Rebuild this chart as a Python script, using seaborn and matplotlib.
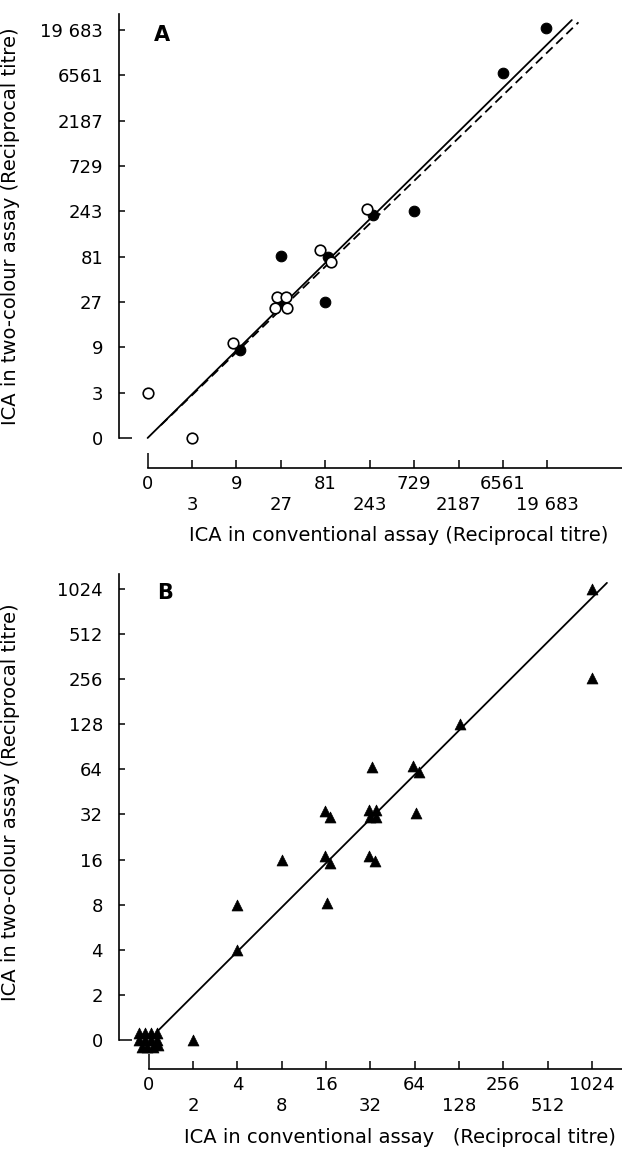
import numpy as np
import pandas as pd
import matplotlib.pyplot as plt
import seaborn as sns

# Panel A - steps on the threefold dilution scale (0 -> 0, 1 -> 3, 2 -> 9, ...)
a_tick_labels = ['0', '3', '9', '27', '81', '243', '729', '2187', '6561', '19 683']
a_open_conv = [0.0, 1.0, 1.93, 2.91, 3.12, 2.87, 3.13, 3.89, 4.13, 4.93]
a_open_two = [1.0, 0.0, 2.09, 3.12, 3.12, 2.86, 2.86, 4.15, 3.89, 5.06]
a_fill_conv = [2.08, 3.02, 3.0, 4.0, 4.05, 5.07, 6.0, 7.99, 8.98]
a_fill_two = [1.94, 2.98, 4.01, 3.0, 4.0, 4.92, 5.0, 8.04, 9.05]
# fitted lines: slope, intercept, first x, last x
a_fit_solid = (0.965, 0.0, 0.0, 9.55)
a_fit_dashed = (0.945, 0.0, 0.3, 9.7)

# Panel B - steps on the twofold dilution scale (0 -> 0, 1 -> 2, 2 -> 4, ...)
b_tick_labels = ['0', '2', '4', '8', '16', '32', '64', '128', '256', '512', '1024']
b_conv = [-0.22, -0.09, 0.05, 0.18, -0.22, -0.09, 0.05, 0.18, -0.16, -0.03, 0.1, 0.2,
          1.0, 2.0, 2.0, 3.0, 3.97, 4.1, 4.02, 3.97, 4.1, 4.97, 5.12, 5.0, 5.12,
          5.03, 4.97, 5.1, 5.97, 6.1, 6.03, 7.02, 10.0, 10.0]
b_two = [0.15, 0.15, 0.15, 0.15, 0.0, 0.0, 0.0, 0.0, -0.15, -0.15, -0.15, -0.12,
         0.0, 3.0, 2.0, 4.0, 4.08, 3.92, 3.03, 5.08, 4.94, 5.1, 5.1, 4.94, 4.94,
         6.05, 4.08, 3.97, 6.08, 5.94, 5.03, 7.0, 10.0, 8.03]
b_fit = (0.98, 0.0, 0.18, 10.34)

sns.set_style('ticks')
plt.rcParams['font.family'] = ['DejaVu Sans']
plt.rcParams.update({'text.color': 'black', 'axes.labelcolor': 'black',
                     'xtick.color': 'black', 'ytick.color': 'black',
                     'axes.edgecolor': 'black'})
FS = 13
LFS = 14
XPAD = 5.0


def draw_fit(ax, fit, style):
    slope, icpt, x0, x1 = fit
    xs = np.array([x0, x1])
    ax.plot(xs, icpt + slope * xs, color='black', lw=1.3, linestyle=style,
            zorder=2)


def style_axes(ax, labels, xlim, ylim, letter, letter_pos, xlabel,
               xlab_pos, ylab_pos):
    n = len(labels)
    pos = np.arange(n)
    ax.set_xlim(*xlim)
    ax.set_ylim(*ylim)
    ax.set_xticks(pos)
    ax.set_xticklabels(labels, fontsize=FS)
    ax.set_yticks(pos)
    ax.set_yticklabels(labels, fontsize=FS)
    for side in ['top', 'right']:
        ax.spines[side].set_visible(False)
    ax.spines['left'].set_bounds(0, ylim[1])
    ax.spines['bottom'].set_bounds(0, xlim[1])
    for side in ['left', 'bottom']:
        ax.spines[side].set_linewidth(1.2)
        ax.spines[side].set_color('black')
    ax.tick_params(axis='y', direction='in', length=4.3, width=1.1, pad=11.5,
                   colors='black')
    ax.tick_params(axis='x', direction='in', length=5.8, width=1.1, pad=XPAD,
                   colors='black')
    ax.yaxis.get_major_ticks()[0].tick1line.set_markersize(9.5)
    ax.xaxis.get_major_ticks()[0].tick1line.set_markersize(11)
    # staggered x tick labels: every second one on a lower row
    for i, tick in enumerate(ax.xaxis.get_major_ticks()):
        if i % 2 == 1:
            tick.set_pad(XPAD + 15)
    ax.set_xlabel(xlabel, fontsize=LFS)
    ax.xaxis.set_label_coords(*xlab_pos)
    ax.xaxis.label.set_va('center')
    ax.set_ylabel('ICA in two-colour assay (Reciprocal titre)', fontsize=LFS)
    ax.yaxis.set_label_coords(*ylab_pos)
    ax.yaxis.label.set_va('center')
    ax.text(letter_pos[0], letter_pos[1], letter, transform=ax.transAxes,
            fontsize=15, fontweight='bold', ha='center', va='center')
    ax.grid(False)


fig = plt.figure(figsize=(6.22, 11.49), dpi=100)
ax_a = fig.add_axes([119 / 622, 1 - 468 / 1149, 503 / 622, 454 / 1149])
ax_b = fig.add_axes([119 / 622, 1 - 1069 / 1149, 503 / 622, 495 / 1149])

# --- A ---
draw_fit(ax_a, a_fit_solid, '-')
draw_fit(ax_a, a_fit_dashed, (0, (5, 2.8)))
sns.scatterplot(x=a_fill_conv, y=a_fill_two, ax=ax_a, marker='o', s=58,
                color='black', edgecolor='black', linewidth=0.8, zorder=3)
sns.scatterplot(x=a_open_conv, y=a_open_two, ax=ax_a, marker='o', s=58,
                color='white', edgecolor='black', linewidth=1.2, zorder=4)
style_axes(ax_a, a_tick_labels, (-0.644, 10.68), (-0.662, 9.35), 'A',
           (0.0855, 0.954), 'ICA in conventional assay (Reciprocal titre)',
           (0.557, -0.148), (-0.216, 0.533))

# --- B ---
draw_fit(ax_b, b_fit, '-')
sns.scatterplot(x=b_conv, y=b_two, ax=ax_b, marker='^', s=62,
                color='black', edgecolor='black', linewidth=0.5, zorder=3)
style_axes(ax_b, b_tick_labels, (-0.67, 10.68), (-0.643, 10.33), 'B',
           (0.0915, 0.962), 'ICA in conventional assay   (Reciprocal titre)',
           (0.559, -0.139), (-0.216, 0.539))

fig.savefig('out.png', dpi=100, facecolor='white')
